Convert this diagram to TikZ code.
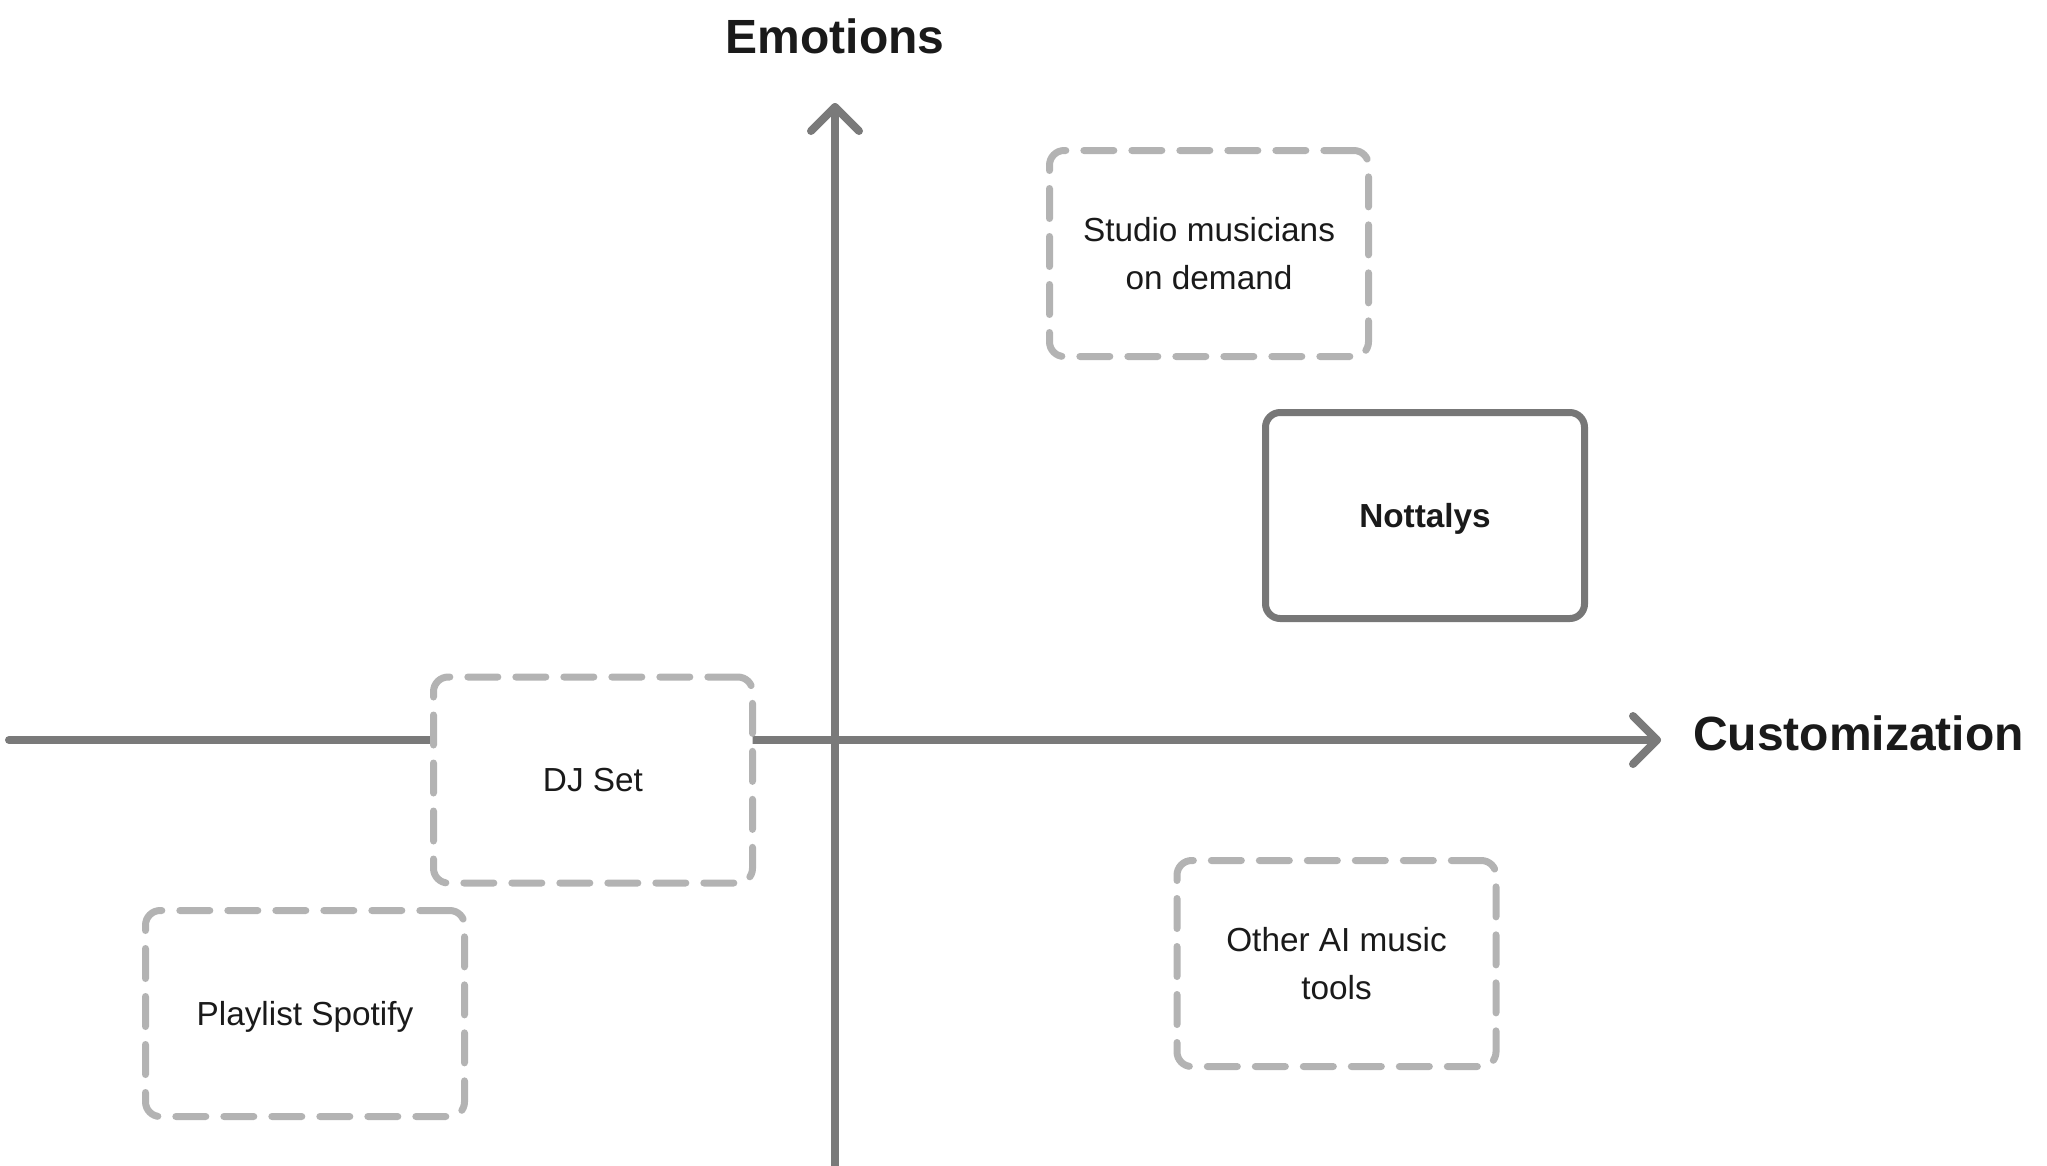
\documentclass[tikz,border=0pt]{standalone}
\usepackage{fontspec}
\setmainfont{Liberation Sans}
\definecolor{axisgray}{HTML}{7A7A7A}
\definecolor{boxgray}{HTML}{B3B3B3}
\definecolor{solidgray}{HTML}{777777}
\definecolor{textdark}{HTML}{1A1A1A}
\begin{document}
\begin{tikzpicture}[x=0.75pt,y=-0.75pt,
  axisline/.style={draw=axisgray, line width=6pt, line cap=round, line join=round},
  basebox/.style={rectangle, rounded corners=11pt, line width=5.25pt, fill=white,
    minimum width=239.25pt, minimum height=154.5pt, inner sep=0pt, align=center,
    text=textdark, font=\fontsize{25}{36}\selectfont},
  oneline/.style={text height=17.9pt, text depth=0pt},
  twoline/.style={text depth=4pt},
  dbox/.style={basebox, draw=boxgray, dash pattern=on 22.5pt off 13.5pt, line cap=round},
  sbox/.style={basebox, draw=solidgray, font=\fontsize{25}{36}\selectfont\bfseries},
  axislabel/.style={inner sep=0pt, text=textdark, font=\fontsize{36}{40}\selectfont\bfseries}
]
\useasboundingbox (0,0) rectangle (2047,1165);

% axes
\coordinate (ybot) at (835,1175);
\coordinate (ytop) at (835,107);
\coordinate (xleft) at (9,740);
\coordinate (xright) at (1657,740);
\draw[axisline] (ybot) -- (ytop);
\draw[axisline] (ytop) ++(-24,24) -- (ytop) -- ++(24,24);
\draw[axisline] (xleft) -- (xright);
\draw[axisline] (xright) ++(-24,-24) -- (xright) -- ++(-24,24);

% axis labels
\node[axislabel, anchor=base] (emo) at (835,53) {Emotions};
\node[axislabel, anchor=base west] (cust) at (1693,750) {Customization};

% boxes
\node[dbox] (studio) at (1209,253.5) {Studio musicians\\on demand};
\node[sbox, oneline] (nottalys) at (1425,515.5) {Nottalys};
\node[dbox, oneline] (dj) at (593,780) {DJ Set};
\node[dbox, oneline] (playlist) at (305,1013.5) {Playlist Spotify};
\node[dbox] (other) at (1336.5,963.5) {Other AI music\\tools};
\end{tikzpicture}
\end{document}
